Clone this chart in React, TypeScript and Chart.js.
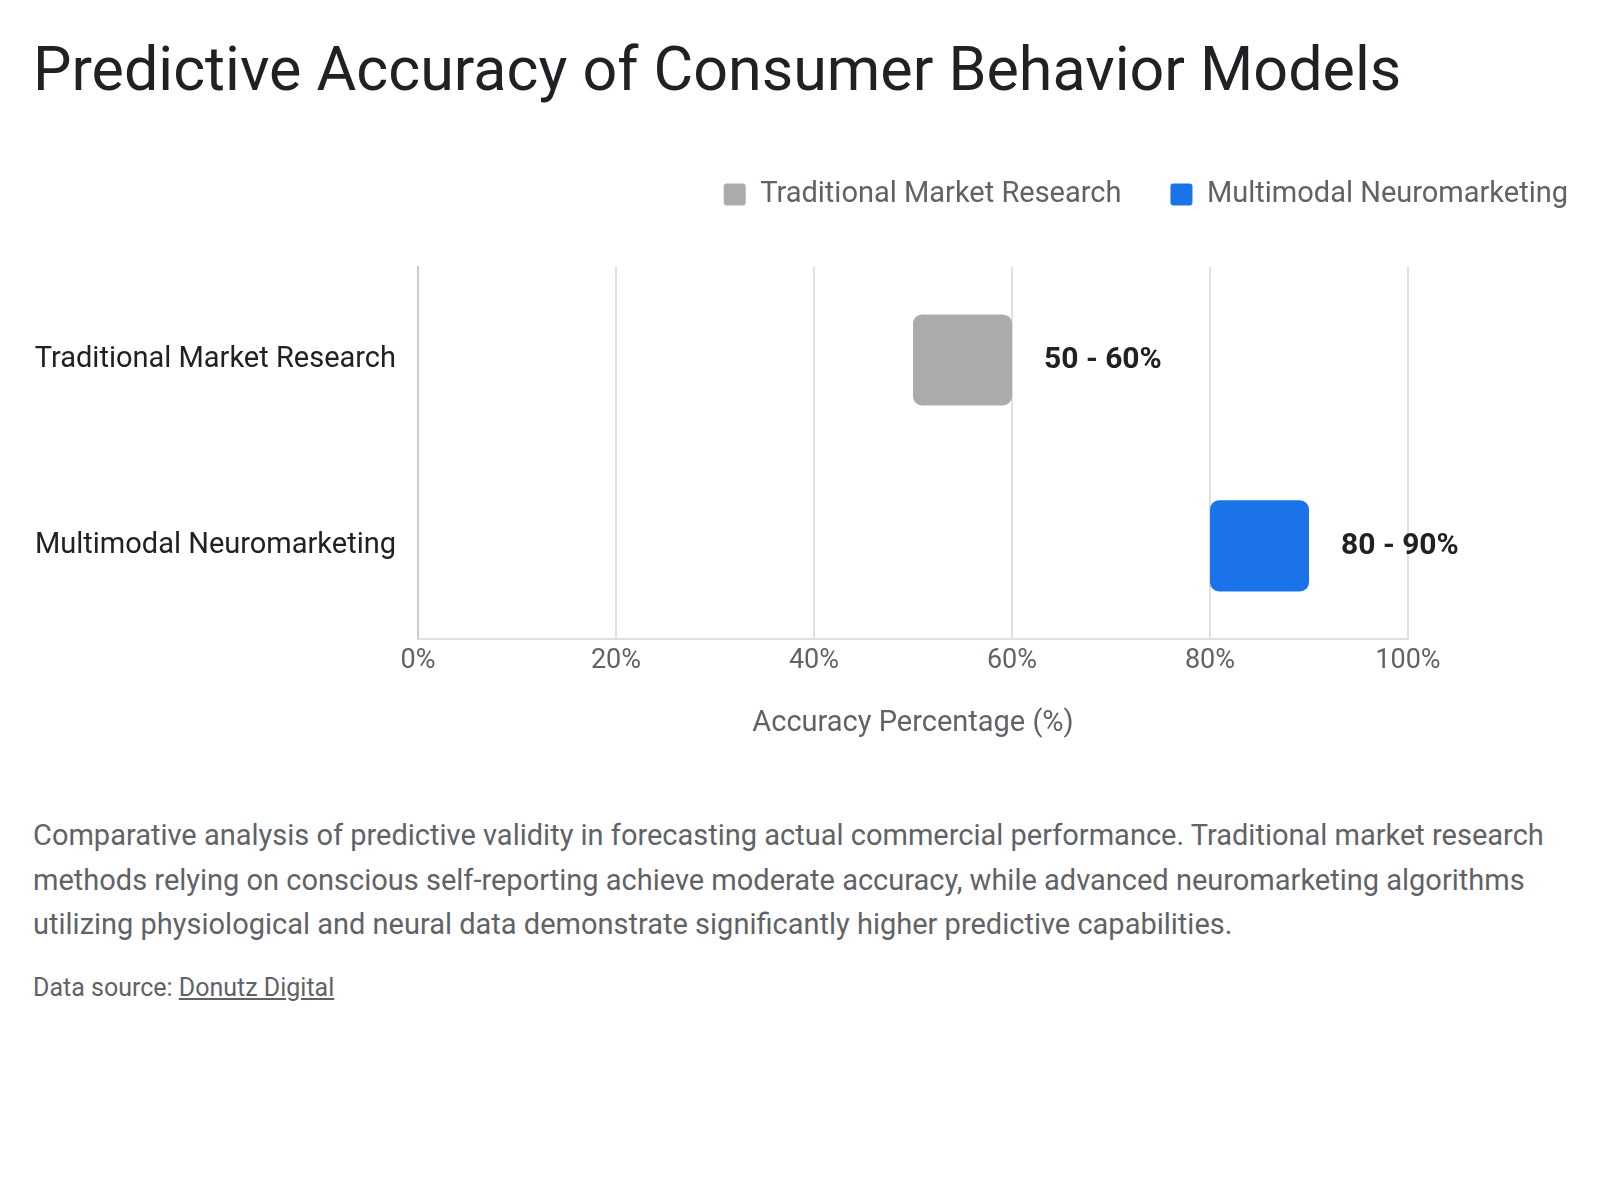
import React, { useEffect, useRef } from "react";
import { Chart, registerables } from "chart.js";

Chart.register(...registerables);

const title = "Predictive Accuracy of Consumer Behavior Models";
const categories = ["Traditional Market Research", "Multimodal Neuromarketing"];
const seriesNames = ["Traditional Market Research", "Multimodal Neuromarketing"];
const traditionalRange: [number, number] = [50, 60];
const neuroRange: [number, number] = [80, 90];
const seriesColors = ["#ababab", "#1a73e8"];
const xTicks = [0, 20, 40, 60, 80, 100];
const xTitle = "Accuracy Percentage (%)";
const descriptionLines = [
  "Comparative analysis of predictive validity in forecasting actual commercial performance. Traditional market research",
  "methods relying on conscious self-reporting achieve moderate accuracy, while advanced neuromarketing algorithms",
  "utilizing physiological and neural data demonstrate significantly higher predictive capabilities.",
];
const sourceLabel = "Data source: ";
const sourceName = "Donutz Digital";

const FONT = "Roboto, 'Noto Sans', sans-serif";

const valueLabelPlugin = {
  id: "valueLabels",
  afterDatasetsDraw(chart: any) {
    const ctx = chart.ctx;
    ctx.save();
    ctx.font = `bold 30px ${FONT}`;
    ctx.fillStyle = "#202124";
    ctx.textBaseline = "middle";
    ctx.textAlign = "left";
    chart.data.datasets.forEach((ds: any, di: number) => {
      const meta = chart.getDatasetMeta(di);
      ds.data.forEach((v: any, i: number) => {
        if (!v) return;
        const el = meta.data[i];
        if (!el) return;
        const end = Math.max(el.x, el.base);
        ctx.fillText(`${v[0]} - ${v[1]}%`, end + 32, el.y + 1);
      });
    });
    ctx.restore();
  },
};

function ChartView() {
  const ref = useRef<HTMLCanvasElement | null>(null);
  useEffect(() => {
    if (!ref.current) return;
    const chart = new Chart(ref.current, {
      type: "bar",
      data: {
        labels: categories,
        datasets: [
          {
            label: seriesNames[0],
            data: [traditionalRange, null] as any,
            backgroundColor: seriesColors[0],
            borderRadius: 9,
            borderSkipped: false,
            grouped: false,
            barPercentage: 0.49,
            categoryPercentage: 1,
          },
          {
            label: seriesNames[1],
            data: [null, neuroRange] as any,
            backgroundColor: seriesColors[1],
            borderRadius: 9,
            borderSkipped: false,
            grouped: false,
            barPercentage: 0.49,
            categoryPercentage: 1,
          },
        ],
      },
      options: {
        indexAxis: "y",
        animation: false,
        responsive: false,
        devicePixelRatio: 1,
        layout: { padding: { top: 23, right: -25, left: 0, bottom: 0 } },
        plugins: {
          legend: {
            position: "top",
            align: "end",
            labels: {
              boxWidth: 22,
              boxHeight: 22,
              useBorderRadius: true,
              borderRadius: 3,
              padding: 49,
              color: "#5f6368",
              font: { family: FONT, size: 29 },
            },
          },
          tooltip: { enabled: false },
        },
        scales: {
          x: {
            type: "linear",
            position: "bottom",
            min: 0,
            max: 100,
            afterBuildTicks: (s: any) => {
              s.ticks = xTicks.map((v) => ({ value: v }));
            },
            ticks: {
              padding: 6,
              color: "#5f6368",
              font: { family: FONT, size: 27 },
              callback: (v: any) => `${v}%`,
            },
            grid: { color: "#e0e0e0", lineWidth: 2, drawTicks: false },
            border: { display: true, color: "#e0e0e0", width: 2 },
            title: {
              display: true,
              text: xTitle,
              color: "#5f6368",
              font: { family: FONT, size: 29 },
              padding: { top: 23, bottom: 7 },
            },
          },
          xTop: {
            type: "linear",
            axis: "x",
            position: "top",
            display: true,
            grid: { display: false },
            ticks: { display: false },
            border: { display: false },
            afterFit: (s: any) => {
              s.height = 48;
            },
          },
          y: {
            type: "category",
            position: "left",
            grid: { display: false },
            border: { display: true, color: "#cccccc", width: 2 },
            ticks: {
              padding: 14,
              color: "#202124",
              font: { family: FONT, size: 29 },
            },
            afterFit: (s: any) => {
              s.width = 410;
            },
          },
          yRight: {
            type: "linear",
            axis: "y",
            position: "right",
            display: true,
            grid: { display: false },
            ticks: { display: false },
            border: { display: false },
            afterFit: (s: any) => {
              s.width = 209;
            },
          },
        },
      } as any,
      plugins: [valueLabelPlugin],
    });
    return () => chart.destroy();
  }, []);
  return (
    <canvas
      ref={ref}
      width={1584}
      height={640}
      style={{ position: "absolute", left: 0, top: 100, width: 1584, height: 640 }}
    />
  );
}

export default function App() {
  return (
    <div style={{ position: "relative", width: 1584, height: 1184, fontFamily: FONT, background: "#fff" }}>
      <div
        style={{
          position: "absolute",
          left: 25,
          top: 25,
          fontSize: 61,
          lineHeight: "72px",
          color: "#202124",
          whiteSpace: "nowrap",
        }}
      >
        {title}
      </div>
      <ChartView />
      <div
        style={{
          position: "absolute",
          left: 25,
          top: 805,
          fontSize: 29,
          lineHeight: "44.5px",
          color: "#5f6368",
          whiteSpace: "nowrap",
        }}
      >
        {descriptionLines.map((l, i) => (
          <div key={i}>{l}</div>
        ))}
      </div>
      <div
        style={{
          position: "absolute",
          left: 25,
          top: 965,
          fontSize: 25,
          lineHeight: "30px",
          color: "#5f6368",
          whiteSpace: "nowrap",
        }}
      >
        {sourceLabel}
        <a style={{ color: "#5f6368", textDecoration: "underline" }}>{sourceName}</a>
      </div>
    </div>
  );
}
